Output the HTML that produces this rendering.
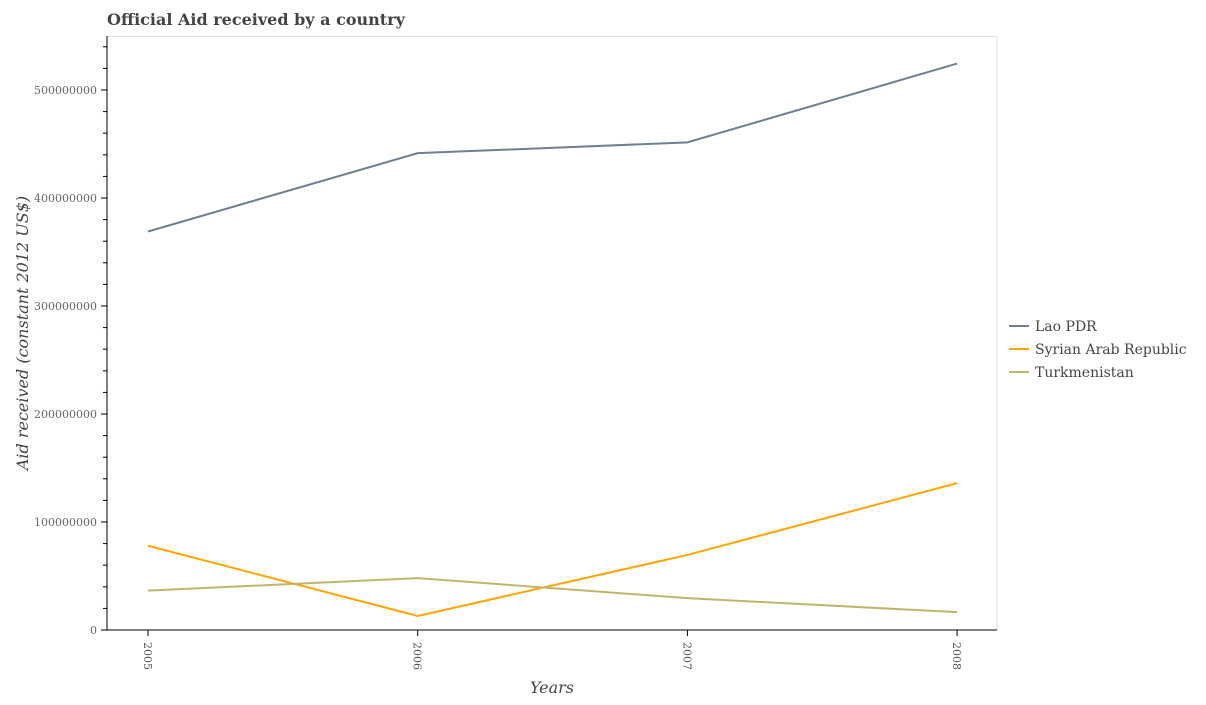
<!DOCTYPE html>
<html><head><meta charset="utf-8"><style>
body{margin:0;background:#fff;width:1206px;height:700px;overflow:hidden}
text{font-family:"DejaVu Serif","Liberation Serif",serif}
</style></head><body>
<svg id="chart" width="1206" height="700">
<text x="107" y="25" font-size="16" font-weight="bold" fill="#444">Official Aid received by a country</text>
<line x1="107" y1="36.5" x2="997" y2="36.5" stroke="#e2e2e2"/>
<line x1="997" y1="36.5" x2="997" y2="630" stroke="#e2e2e2"/>
<g id="yaxis"></g>
<g id="xaxis"></g>
<g id="series"></g>
<text transform="translate(28,333) rotate(-90)" text-anchor="middle" font-size="16" font-style="italic" fill="#444">Aid received (constant 2012 US$)</text>
<text x="552" y="693" text-anchor="middle" font-size="16" font-style="italic" fill="#444">Years</text>
<g id="legend"></g>
</svg>
<script>
const years=["2005","2006","2007","2008"];
const lao=[369000000,441500000,451500000,524500000];
const syria=[78000000,13000000,69500000,136000000];
const turkmen=[36500000,48000000,29500000,16500000];
const yTicks=[0,100000000,200000000,300000000,400000000,500000000];
const names=["Lao PDR","Syrian Arab Republic","Turkmenistan"];
const colors=["#708090","#FFA500","#BDB76B"];
const NS="http://www.w3.org/2000/svg";
function y(v){return 630-v*540/500000000;}
function x(i){return 148+i*269.7;}
function mk(t,a,p){const e=document.createElementNS(NS,t);for(const k in a)e.setAttribute(k,a[k]);p.appendChild(e);return e;}
const ya=document.getElementById('yaxis'),xa=document.getElementById('xaxis'),se=document.getElementById('series'),lg=document.getElementById('legend');
mk('line',{x1:107,y1:36,x2:107,y2:630,stroke:'#000'},ya);
for(let v=0;v<=540000000;v+=20000000){const major=v%100000000===0;mk('line',{x1:major?101:103,y1:y(v),x2:107,y2:y(v),stroke:'#000'},ya);}
yTicks.forEach(v=>{const t=mk('text',{x:97,y:y(v)+4,'text-anchor':'end','font-size':11,fill:'#666'},ya);t.textContent=v;

});
mk('line',{x1:101,y1:630,x2:997,y2:630,stroke:'#000'},xa);
years.forEach((yr,i)=>{mk('line',{x1:x(i),y1:630,x2:x(i),y2:636,stroke:'#000'},xa);
const t=mk('text',{transform:`translate(${x(i)-4},642) rotate(90)`,'font-size':11,fill:'#555','font-family':'DejaVu Sans, sans-serif'},xa);t.textContent=yr;

});
[lao,syria,turkmen].forEach((s,k)=>{const p=mk('polyline',{points:s.map((v,i)=>x(i)+','+y(v)).join(' '),fill:'none',stroke:colors[k],'stroke-width':2},se);


const yy=326+k*23;
mk('line',{x1:1009,y1:yy,x2:1029,y2:yy,stroke:colors[k],'stroke-width':2},lg);
const t=mk('text',{x:1035,y:yy+5,'font-size':14,fill:'#444'},lg);t.textContent=names[k];

});
</script>
</body></html>
